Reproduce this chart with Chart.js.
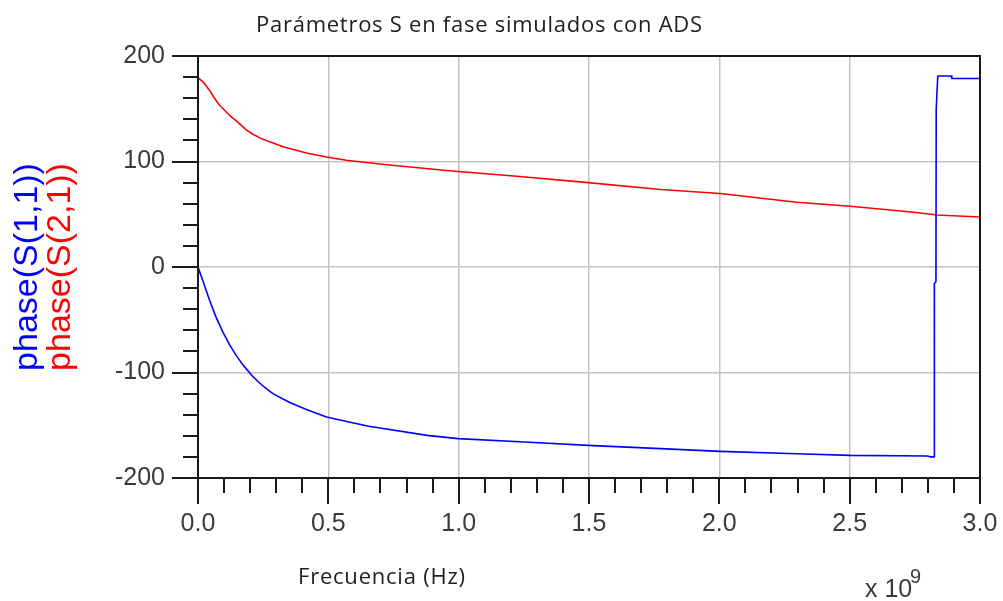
<!DOCTYPE html>
<html>
<head>
<meta charset="utf-8">
<title>Parámetros S en fase simulados con ADS</title>
<script src="https://cdn.jsdelivr.net/npm/chart.js@4/dist/chart.umd.min.js"></script>
<style>
  html, body { margin: 0; padding: 0; background: #ffffff; }
  #wrap { width: 1003px; height: 601px; position: relative; }
</style>
</head>
<body>
<div id="wrap"><canvas id="c" width="1003" height="601"></canvas></div>
<script>
// Frequency (GHz, axis is shown in units of 1e9 Hz) and phase (degrees)
const freqS11  = [0, 0.02, 0.045, 0.07, 0.096, 0.122, 0.147, 0.173, 0.211, 0.25, 0.287, 0.352, 0.416, 0.493, 0.544, 0.655, 0.879, 0.998, 1.252, 1.497, 1.774, 2.003, 2.297, 2.502, 2.797, 2.811, 2.824, 2.825, 2.831, 2.832, 2.838, 2.89, 2.892, 3.0];
const phaseS11 = [0, -14, -32, -48, -62, -74, -84, -93, -104, -113, -120, -128.5, -135, -142.2, -145, -151, -159.6, -162.7, -165.9, -169.1, -172.2, -174.8, -177, -178.6, -179.2, -180, -180, -15.7, -14, 149.6, 181.1, 181.1, 178.7, 178.7];

const freqS21  = [0, 0.019, 0.044, 0.064, 0.083, 0.121, 0.147, 0.185, 0.211, 0.249, 0.288, 0.326, 0.416, 0.493, 0.569, 0.714, 0.953, 1.222, 1.497, 1.774, 2.003, 2.297, 2.502, 2.746, 2.835, 3.0];
const phaseS21 = [179.5, 175.5, 167.6, 159.7, 153.3, 143.8, 138.5, 130, 125.8, 121, 117.5, 114, 108, 104.3, 101.2, 97.1, 91.4, 86, 80, 73.4, 69.6, 61.4, 57.6, 51.9, 49.3, 47.4];

// Axis settings
const xMin = 0, xMax = 3.0, xMinorStep = 0.1, xMajorStep = 0.5;
const yMin = -200, yMax = 200, yMinorStep = 20, yMajorStep = 100;

const chartTitle = 'Parámetros S en fase simulados con ADS';
const xAxisTitle = 'Frecuencia (Hz)';
const seriesLabels = ['phase(S(1,1))', 'phase(S(2,1))'];
const seriesColors = ['#0000ff', '#ff0000'];

const toPoints = (xs, ys) => xs.map((x, i) => ({ x: x, y: ys[i] }));
const isMultiple = (v, step) => Math.abs(v / step - Math.round(v / step)) < 1e-6;

const tickFont = { family: '"Liberation Sans", Arial, sans-serif', size: 25 };
const tickColor = '#3a3a3a';
const gridGrey = '#c4c4c4';

// Draws text starting at x, spreading the letters so it spans the given width
function fillSpread(ctx, text, x, y, width) {
  ctx.letterSpacing = '0px';
  const w = ctx.measureText(text).width;
  const extra = (width - w) / (text.length - 1);
  ctx.letterSpacing = extra.toFixed(2) + 'px';
  ctx.fillText(text, x, y);
  ctx.letterSpacing = '0px';
}

// Frame, tick marks and annotation text
const decorations = {
  id: 'decorations',
  afterDatasetsDraw(chart) {
    const ctx = chart.ctx;
    const a = chart.chartArea;
    const xs = chart.scales.x, ys = chart.scales.y;
    ctx.save();
    ctx.strokeStyle = '#1a1a1a';
    ctx.lineWidth = 2;
    ctx.lineCap = 'butt';
    ctx.strokeRect(a.left, a.top, a.right - a.left, a.bottom - a.top);

    ctx.beginPath();
    xs.ticks.forEach(t => {
      const px = Math.round(xs.getPixelForValue(t.value));
      const len = isMultiple(t.value, xMajorStep) ? 26 : 15;
      ctx.moveTo(px, a.bottom);
      ctx.lineTo(px, a.bottom + len);
    });
    ys.ticks.forEach(t => {
      const py = Math.round(ys.getPixelForValue(t.value));
      const len = isMultiple(t.value, yMajorStep) ? 26 : 15;
      ctx.moveTo(a.left - len, py);
      ctx.lineTo(a.left, py);
    });
    ctx.stroke();

    // Title and x axis title
    ctx.fillStyle = '#1e1e1e';
    ctx.font = '22px "Open Sans", Lato, sans-serif';
    ctx.textAlign = 'left';
    ctx.textBaseline = 'alphabetic';
    fillSpread(ctx, chartTitle, 256, 32, 446);
    fillSpread(ctx, xAxisTitle, 298, 584, 167);

    // Exponent of the x axis
    ctx.fillStyle = tickColor;
    ctx.font = '25px "Liberation Sans", Arial, sans-serif';
    ctx.fillText('x 10', 865, 597);
    ctx.font = '20px "Liberation Sans", Arial, sans-serif';
    ctx.fillText('9', 910, 583);

    // Rotated series labels
    const cy = (a.top + a.bottom) / 2;
    ctx.font = '34px "Liberation Sans", Arial, sans-serif';
    ctx.textAlign = 'center';
    [[37, 0], [70, 1]].forEach(([bx, i]) => {
      ctx.save();
      ctx.translate(bx, cy);
      ctx.rotate(-Math.PI / 2);
      ctx.fillStyle = seriesColors[i];
      ctx.fillText(seriesLabels[i], 0, 0);
      ctx.restore();
    });
    ctx.restore();
  }
};

new Chart(document.getElementById('c'), {
  type: 'scatter',
  data: {
    datasets: [
      {
        label: seriesLabels[0],
        data: toPoints(freqS11, phaseS11),
        showLine: true,
        borderColor: seriesColors[0],
        backgroundColor: seriesColors[0],
        borderWidth: 1.6,
        borderJoinStyle: 'round',
        pointRadius: 0,
        tension: 0
      },
      {
        label: seriesLabels[1],
        data: toPoints(freqS21, phaseS21),
        showLine: true,
        borderColor: seriesColors[1],
        backgroundColor: seriesColors[1],
        borderWidth: 1.6,
        borderJoinStyle: 'round',
        pointRadius: 0,
        tension: 0
      }
    ]
  },
  options: {
    responsive: false,
    animation: false,
    devicePixelRatio: 1,
    layout: { padding: { top: 56, right: 23, left: 0, bottom: 0 } },
    plugins: {
      legend: { display: false },
      title: { display: false },
      tooltip: { enabled: false }
    },
    scales: {
      x: {
        type: 'linear',
        min: xMin,
        max: xMax,
        afterFit(scale) { scale.height = 123; },
        border: { display: false },
        grid: {
          drawTicks: true,
          tickLength: 26,
          tickColor: 'rgba(0,0,0,0)',
          lineWidth: 1.5,
          color: ctx => (ctx.tick && isMultiple(ctx.tick.value, xMajorStep)) ? gridGrey : 'rgba(0,0,0,0)'
        },
        ticks: {
          stepSize: xMinorStep,
          autoSkip: false,
          maxRotation: 0,
          padding: 5,
          color: tickColor,
          font: tickFont,
          callback: v => isMultiple(v, xMajorStep) ? Number(v).toFixed(1) : ''
        }
      },
      y: {
        type: 'linear',
        min: yMin,
        max: yMax,
        afterFit(scale) { scale.width = 198; },
        border: { display: false },
        grid: {
          drawTicks: true,
          tickLength: 26,
          tickColor: 'rgba(0,0,0,0)',
          lineWidth: 1.5,
          color: ctx => (ctx.tick && isMultiple(ctx.tick.value, yMajorStep)) ? gridGrey : 'rgba(0,0,0,0)'
        },
        ticks: {
          stepSize: yMinorStep,
          autoSkip: false,
          padding: 7,
          color: tickColor,
          font: tickFont,
          callback: v => isMultiple(v, yMajorStep) ? String(Math.round(v)) : ''
        }
      }
    }
  },
  plugins: [decorations]
});
</script>
</body>
</html>
